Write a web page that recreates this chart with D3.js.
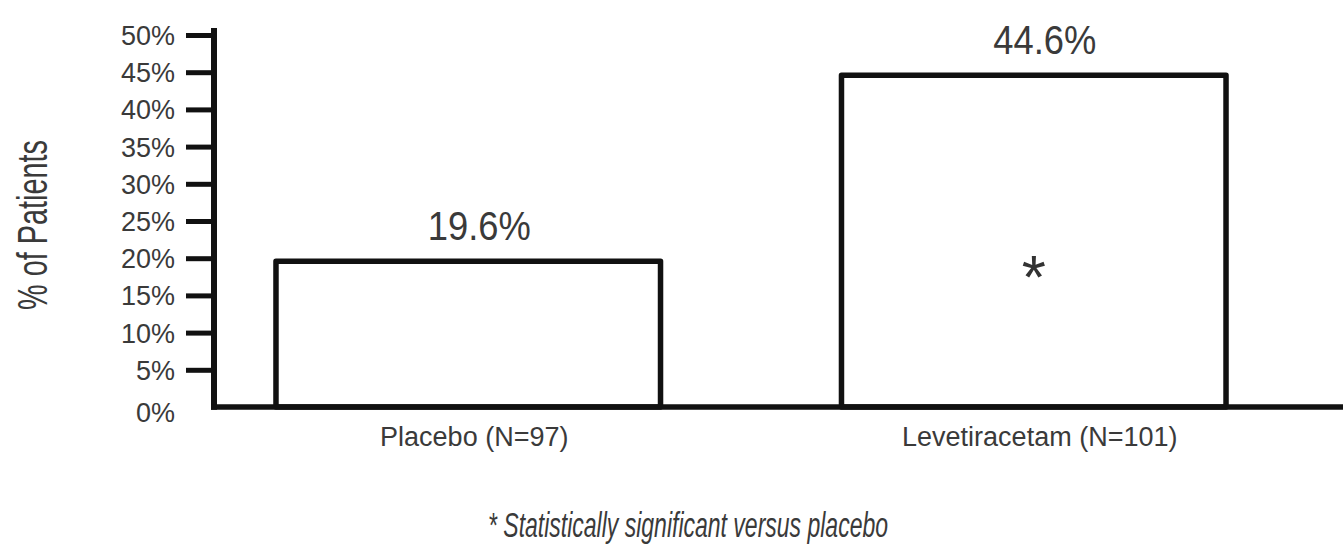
<!DOCTYPE html>
<html>
<head>
<meta charset="utf-8">
<script src="https://cdn.jsdelivr.net/npm/d3@7"></script>
<style>
  body { margin: 0; background: #fff; }
  svg { display: block; font-family: "Liberation Sans", Arial, sans-serif; }
</style>
</head>
<body>
<svg id="chart" width="1343" height="545"></svg>
<script>
// data
const categories = ["Placebo (N=97)", "Levetiracetam (N=101)"]
const values = [19.6, 44.6]
const valueLabels = ["19.6%", "44.6%"]
const significant = [false, true]
const yTicks = [0, 5, 10, 15, 20, 25, 30, 35, 40, 45, 50]
const yTickLabels = ["0%", "5%", "10%", "15%", "20%", "25%", "30%", "35%", "40%", "45%", "50%"]
const yTitle = "% of Patients"
const footnote = "* Statistically significant versus placebo"

const ink = "#111"
const textColor = "#3a3a3a"

const svg = d3.select("#chart")

const x = d3.scaleBand()
  .domain(categories)
  .range([185.5, 1316.5])
  .paddingInner(0.32)
  .paddingOuter(0.16)

const y = d3.scaleLinear()
  .domain([0, 50])
  .range([407, 35])

const base = y(0)

// Bars
const bars = svg.append("g").attr("class", "bars")
bars.selectAll("rect")
  .data(values)
  .join("rect")
  .attr("x", (d, i) => x(categories[i]))
  .attr("y", d => y(d))
  .attr("width", x.bandwidth())
  .attr("height", d => base - y(d))
  .attr("fill", "#fff")
  .attr("stroke", ink)
  .attr("stroke-width", 5.5)
  .attr("stroke-linejoin", "round")

// Value labels above bars
bars.selectAll("text.value")
  .data(values)
  .join("text")
  .attr("class", "value")
  .attr("x", (d, i) => x(categories[i]) + x.bandwidth() / 2 + 11)
  .attr("y", d => y(d) - 21)
  .attr("text-anchor", "middle")
  .attr("font-size", 40)
  .attr("textLength", 103)
  .attr("lengthAdjust", "spacingAndGlyphs")
  .attr("fill", textColor)
  .text((d, i) => valueLabels[i])

// Significance asterisk
bars.selectAll("text.star")
  .data(values.filter((d, i) => significant[i]))
  .join("text")
  .attr("class", "star")
  .attr("x", (d, i) => x(categories[values.indexOf(d)]) + x.bandwidth() / 2)
  .attr("y", y(19.5) + 36)
  .attr("text-anchor", "middle")
  .attr("font-size", 62)
  .attr("fill", "#333")
  .text("*")

// Y axis
const yAxis = svg.append("g")
  .attr("transform", `translate(214,0)`)
  .call(d3.axisLeft(y)
    .tickValues(yTicks)
    .tickSize(28)
    .tickPadding(11)
    .tickFormat((d, i) => yTickLabels[i]))

yAxis.select(".domain").remove()
yAxis.selectAll(".tick line")
  .attr("stroke", ink)
  .attr("stroke-width", 5)
  .attr("opacity", d => d === 0 ? 0 : 1)
yAxis.selectAll(".tick text")
  .attr("font-size", 27)
  .attr("font-family", "Liberation Sans, Arial, sans-serif")
  .attr("fill", textColor)
  .attr("dy", d => d === 0 ? "0.55em" : "0.35em")

svg.append("line")
  .attr("x1", 214).attr("x2", 214)
  .attr("y1", 28).attr("y2", base + 2.75)
  .attr("stroke", ink)
  .attr("stroke-width", 6)

// X axis
svg.append("line")
  .attr("x1", 211).attr("x2", 1343)
  .attr("y1", base).attr("y2", base)
  .attr("stroke", ink)
  .attr("stroke-width", 5.5)

const xAxis = svg.append("g")
  .attr("transform", `translate(6,${base})`)
  .call(d3.axisBottom(x).tickSize(0).tickPadding(20))
xAxis.select(".domain").remove()
xAxis.selectAll(".tick text")
  .attr("font-size", 27)
  .attr("font-family", "Liberation Sans, Arial, sans-serif")
  .attr("fill", textColor)

// Y title
svg.append("text")
  .attr("transform", "translate(47,225) rotate(-90)")
  .attr("text-anchor", "middle")
  .attr("font-size", 42)
  .attr("textLength", 170)
  .attr("lengthAdjust", "spacingAndGlyphs")
  .attr("fill", textColor)
  .text(yTitle)

// Footnote
svg.append("text")
  .attr("x", 688)
  .attr("y", 537)
  .attr("text-anchor", "middle")
  .attr("font-size", 35)
  .attr("font-style", "italic")
  .attr("textLength", 400)
  .attr("lengthAdjust", "spacingAndGlyphs")
  .attr("fill", textColor)
  .text(footnote)
</script>
</body>
</html>
